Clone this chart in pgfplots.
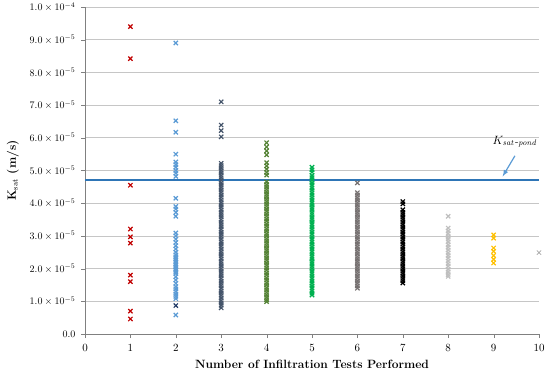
\documentclass[border=0pt]{standalone}
\usepackage{pgfplots}
\pgfplotsset{compat=1.18}
\definecolor{cA}{HTML}{C00000}
\definecolor{cB}{HTML}{5B9BD5}
\definecolor{cBn}{HTML}{1F3864}
\definecolor{cC}{HTML}{44546A}
\definecolor{cD}{HTML}{548235}
\definecolor{cE}{HTML}{00B050}
\definecolor{cF}{HTML}{767171}
\definecolor{cG}{HTML}{000000}
\definecolor{cH}{HTML}{BFBFBF}
\definecolor{cI}{HTML}{FFC000}
\definecolor{cJ}{HTML}{A6A6A6}
\definecolor{cLine}{HTML}{2E75B6}
\begin{document}
\begin{tikzpicture}
\useasboundingbox (0,0) rectangle (550pt,376pt);
\begin{axis}[
  at={(85pt,42pt)}, anchor=south west,
  scale only axis, width=454pt, height=327pt,
  xmin=0, xmax=10, ymin=0, ymax=10,
  axis lines=left,
  axis line style={gray, -},
  xtick={0,1,...,10},
  ytick={0,1,...,10},
  yticklabels={0.0,$1.0\times10^{-5}$,$2.0\times10^{-5}$,$3.0\times10^{-5}$,$4.0\times10^{-5}$,$5.0\times10^{-5}$,$6.0\times10^{-5}$,$7.0\times10^{-5}$,$8.0\times10^{-5}$,$9.0\times10^{-5}$,$1.0\times10^{-4}$},
  tick style={gray},
  tick align=outside,
  major tick length=4pt,
  ymajorgrids,
  grid style={gray!45, line width=0.8pt},
  yticklabel style={font=\fontsize{10}{12}\selectfont, xshift=-2pt},
  xticklabel style={font=\fontsize{11}{13}\selectfont, yshift=-3pt},
  xlabel={\fontsize{12}{14}\selectfont\bfseries Number of Infiltration Tests Performed},
  ylabel={\fontsize{12}{14}\selectfont\bfseries K$_{\mathrm{sat}}$ (m/s)},
  xlabel style={yshift=-2pt},
  ylabel style={yshift=4pt},
  sc/.style={only marks, mark=x, mark size=3pt, line width=1.2pt},
  clip=false,
]
\addplot[cA, sc] coordinates {(1,9.4)(1,8.42)(1,4.55)(1,3.21)(1,2.97)(1,2.78)(1,1.80)(1,1.60)(1,0.70)(1,0.46)};
\addplot[cB, sc] coordinates {(2,8.9)(2,6.52)(2,6.17)(2,5.5)(2,5.26)(2,5.18)(2,5.1)(2,5.0)(2,4.92)(2,4.82)(2,4.15)(2,3.9)(2,3.82)(2,3.72)(2,3.6)(2,3.09)(2,3.0)(2,2.9)(2,2.8)(2,2.7)(2,2.6)(2,2.5)(2,2.42)(2,2.35)(2,2.3)(2,2.25)(2,2.2)(2,2.15)(2,2.1)(2,2.05)(2,2.0)(2,1.95)(2,1.9)(2,1.85)(2,1.75)(2,1.65)(2,1.55)(2,1.45)(2,1.38)(2,1.3)(2,1.22)(2,1.15)(2,1.08)(2,0.58)};
\addplot[cBn, sc] coordinates {(2,0.87)};
\addplot[cC, sc] coordinates {(3,7.1)(3,6.39)(3,6.22)(3,6.03)(3,5.22)(3,5.15)(3,5.08)(3,5.0)(3,4.93)(3,4.85)(3,4.78)(3,4.7)(3,4.62)(3,4.55)(3,4.48)(3,4.4)(3,4.33)(3,4.25)(3,4.18)(3,4.1)(3,4.02)(3,3.95)(3,3.88)(3,3.8)(3,3.72)(3,3.65)(3,3.58)(3,3.5)(3,3.42)(3,3.35)(3,3.28)(3,3.2)(3,3.12)(3,3.05)(3,2.98)(3,2.9)(3,2.82)(3,2.75)(3,2.68)(3,2.6)(3,2.52)(3,2.45)(3,2.38)(3,2.3)(3,2.22)(3,2.15)(3,2.08)(3,2.0)(3,1.92)(3,1.85)(3,1.78)(3,1.7)(3,1.62)(3,1.55)(3,1.48)(3,1.4)(3,1.32)(3,1.25)(3,1.18)(3,1.1)(3,1.02)(3,0.95)(3,0.88)(3,0.8)};
\addplot[cD, sc] coordinates {(4,5.85)(4,5.72)(4,5.6)(4,5.48)(4,5.24)(4,5.14)(4,5.04)(4,4.94)(4,4.86)(4,4.65)(4,4.57)(4,4.5)(4,4.42)(4,4.35)(4,4.27)(4,4.2)(4,4.12)(4,4.05)(4,3.97)(4,3.9)(4,3.82)(4,3.75)(4,3.67)(4,3.6)(4,3.52)(4,3.45)(4,3.37)(4,3.3)(4,3.22)(4,3.15)(4,3.07)(4,3.0)(4,2.92)(4,2.85)(4,2.77)(4,2.7)(4,2.62)(4,2.55)(4,2.47)(4,2.4)(4,2.32)(4,2.25)(4,2.17)(4,2.1)(4,2.02)(4,1.95)(4,1.87)(4,1.8)(4,1.72)(4,1.65)(4,1.57)(4,1.5)(4,1.42)(4,1.35)(4,1.27)(4,1.2)(4,1.12)(4,1.05)(4,0.99)};
\addplot[cE, sc] coordinates {(5,5.1)(5,5.02)(5,4.95)(5,4.85)(5,4.78)(5,4.7)(5,4.62)(5,4.55)(5,4.47)(5,4.4)(5,4.32)(5,4.25)(5,4.17)(5,4.1)(5,4.02)(5,3.95)(5,3.87)(5,3.8)(5,3.72)(5,3.65)(5,3.57)(5,3.5)(5,3.42)(5,3.35)(5,3.27)(5,3.2)(5,3.12)(5,3.05)(5,2.97)(5,2.9)(5,2.82)(5,2.75)(5,2.67)(5,2.6)(5,2.52)(5,2.45)(5,2.37)(5,2.3)(5,2.22)(5,2.15)(5,2.07)(5,2.0)(5,1.92)(5,1.85)(5,1.77)(5,1.7)(5,1.62)(5,1.55)(5,1.47)(5,1.4)(5,1.32)(5,1.25)(5,1.19)};
\addplot[cF, sc] coordinates {(6,4.62)(6,4.32)(6,4.25)(6,4.17)(6,4.1)(6,4.02)(6,3.95)(6,3.87)(6,3.8)(6,3.72)(6,3.65)(6,3.57)(6,3.5)(6,3.42)(6,3.35)(6,3.27)(6,3.2)(6,3.12)(6,3.05)(6,2.97)(6,2.9)(6,2.82)(6,2.75)(6,2.67)(6,2.6)(6,2.52)(6,2.45)(6,2.37)(6,2.3)(6,2.22)(6,2.15)(6,2.07)(6,2.0)(6,1.92)(6,1.85)(6,1.77)(6,1.7)(6,1.62)(6,1.55)(6,1.47)(6,1.4)};
\addplot[cG, sc] coordinates {(7,4.05)(7,3.98)(7,3.8)(7,3.72)(7,3.65)(7,3.57)(7,3.5)(7,3.42)(7,3.35)(7,3.27)(7,3.2)(7,3.12)(7,3.05)(7,2.97)(7,2.9)(7,2.82)(7,2.75)(7,2.67)(7,2.6)(7,2.52)(7,2.45)(7,2.37)(7,2.3)(7,2.22)(7,2.15)(7,2.07)(7,2.0)(7,1.92)(7,1.85)(7,1.77)(7,1.7)(7,1.63)(7,1.56)};
\addplot[cH, sc] coordinates {(8,3.6)(8,3.24)(8,3.15)(8,3.07)(8,2.98)(8,2.9)(8,2.82)(8,2.73)(8,2.65)(8,2.57)(8,2.48)(8,2.4)(8,2.32)(8,2.23)(8,2.15)(8,2.07)(8,1.98)(8,1.9)(8,1.82)(8,1.76)};
\addplot[cI, sc] coordinates {(9,3.03)(9,2.93)(9,2.63)(9,2.53)(9,2.4)(9,2.28)(9,2.17)};
\addplot[cJ, sc, line width=0.7pt] coordinates {(10,2.49)};
\addplot[cLine, mark=none, line width=1.4pt] coordinates {(0,4.71)(10,4.71)};
\draw[cB, line width=1.2pt, -latex] (axis cs:9.47,5.45) -- (axis cs:9.2,4.82);
\node[font=\fontsize{12}{14}\selectfont] at (axis cs:9.47,5.88) {$K_{\mathit{sat}\textit{-}\mathit{pond}}$};
\end{axis}
\end{tikzpicture}
\end{document}
